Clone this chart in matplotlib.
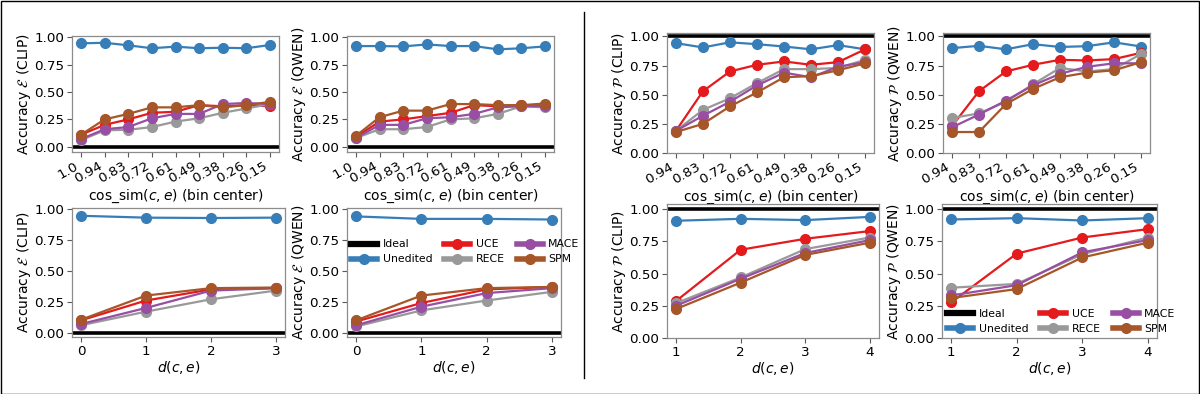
import numpy as np
import matplotlib
matplotlib.use('Agg')
import matplotlib.pyplot as plt
from matplotlib.lines import Line2D
from matplotlib.patches import Rectangle

# bins / x values
cos_bins_e = ['1.0', '0.94', '0.83', '0.72', '0.61', '0.49', '0.38', '0.26', '0.15']
cos_bins_p = ['0.94', '0.83', '0.72', '0.61', '0.49', '0.38', '0.26', '0.15']
d_e = [0, 1, 2, 3]
d_p = [1, 2, 3, 4]

methods = ['Unedited', 'UCE', 'RECE', 'MACE', 'SPM']
colors = {'Unedited': '#377eb8', 'UCE': '#e41a1c', 'RECE': '#999999',
          'MACE': '#984ea3', 'SPM': '#a65628'}

# accuracy E, cos_sim bins
e_cos_clip = {
    'Unedited': [0.945, 0.95, 0.927, 0.90, 0.915, 0.90, 0.905, 0.90, 0.93],
    'UCE':      [0.11, 0.20, 0.25, 0.31, 0.32, 0.38, 0.37, 0.38, 0.37],
    'RECE':     [0.06, 0.15, 0.155, 0.18, 0.23, 0.26, 0.31, 0.35, 0.39],
    'MACE':     [0.07, 0.16, 0.18, 0.26, 0.30, 0.30, 0.39, 0.40, 0.39],
    'SPM':      [0.11, 0.25, 0.30, 0.36, 0.36, 0.38, 0.36, 0.38, 0.41],
}
e_cos_qwen = {
    'Unedited': [0.92, 0.92, 0.917, 0.935, 0.92, 0.92, 0.89, 0.90, 0.917],
    'UCE':      [0.09, 0.23, 0.25, 0.28, 0.31, 0.38, 0.37, 0.38, 0.38],
    'RECE':     [0.08, 0.16, 0.16, 0.18, 0.25, 0.26, 0.30, 0.37, 0.36],
    'MACE':     [0.08, 0.20, 0.20, 0.26, 0.27, 0.30, 0.36, 0.37, 0.37],
    'SPM':      [0.10, 0.27, 0.33, 0.33, 0.39, 0.39, 0.38, 0.38, 0.395],
}
# accuracy E, graph distance
e_d_clip = {
    'Unedited': [0.945, 0.93, 0.927, 0.93],
    'UCE':      [0.10, 0.26, 0.35, 0.36],
    'RECE':     [0.06, 0.17, 0.27, 0.34],
    'MACE':     [0.07, 0.20, 0.34, 0.36],
    'SPM':      [0.105, 0.30, 0.36, 0.365],
}
e_d_qwen = {
    'Unedited': [0.94, 0.92, 0.92, 0.915],
    'UCE':      [0.09, 0.24, 0.35, 0.37],
    'RECE':     [0.05, 0.18, 0.26, 0.33],
    'MACE':     [0.06, 0.21, 0.32, 0.36],
    'SPM':      [0.10, 0.30, 0.36, 0.37],
}
# accuracy P, cos_sim bins
p_cos_clip = {
    'Unedited': [0.943, 0.906, 0.95, 0.934, 0.914, 0.89, 0.926, 0.89],
    'UCE':      [0.19, 0.53, 0.70, 0.757, 0.786, 0.757, 0.78, 0.89],
    'RECE':     [0.19, 0.37, 0.47, 0.60, 0.72, 0.72, 0.73, 0.80],
    'MACE':     [0.19, 0.32, 0.44, 0.58, 0.69, 0.65, 0.74, 0.78],
    'SPM':      [0.18, 0.25, 0.40, 0.52, 0.65, 0.66, 0.71, 0.77],
}
p_cos_qwen = {
    'Unedited': [0.90, 0.92, 0.89, 0.934, 0.91, 0.917, 0.95, 0.914],
    'UCE':      [0.23, 0.53, 0.70, 0.757, 0.80, 0.794, 0.806, 0.86],
    'RECE':     [0.30, 0.34, 0.44, 0.59, 0.73, 0.70, 0.72, 0.85],
    'MACE':     [0.22, 0.33, 0.45, 0.58, 0.68, 0.74, 0.77, 0.77],
    'SPM':      [0.18, 0.18, 0.42, 0.55, 0.65, 0.69, 0.71, 0.78],
}
# accuracy P, graph distance
p_d_clip = {
    'Unedited': [0.91, 0.925, 0.915, 0.94],
    'UCE':      [0.287, 0.685, 0.77, 0.83],
    'RECE':     [0.27, 0.47, 0.69, 0.78],
    'MACE':     [0.25, 0.46, 0.66, 0.76],
    'SPM':      [0.225, 0.43, 0.645, 0.74],
}
p_d_qwen = {
    'Unedited': [0.92, 0.93, 0.912, 0.93],
    'UCE':      [0.276, 0.655, 0.78, 0.845],
    'RECE':     [0.39, 0.42, 0.65, 0.78],
    'MACE':     [0.33, 0.41, 0.665, 0.76],
    'SPM':      [0.31, 0.38, 0.625, 0.74],
}

W, H = 1200, 394
fig = plt.figure(figsize=(W / 100, H / 100), dpi=100)


def px_axes(l, r, t, b):
    return fig.add_axes([l / W, (H - b) / H, (r - l) / W, (b - t) / H])


def draw(ax, xs, data, ideal, xlim, ylim, xticklabels, xlabel, ylabel, rot):
    ax.axhline(ideal, color='black', lw=2.6, zorder=1)
    for m in methods:
        ax.plot(xs, data[m], marker='o', ms=7, lw=1.6, color=colors[m], zorder=2)
    ax.set_xlim(xlim)
    ax.set_ylim(ylim)
    ax.set_xticks(xs)
    if rot:
        ax.set_xticklabels(xticklabels, rotation=30, ha='right')
    else:
        ax.set_xticklabels(xticklabels)
    ax.set_yticks([0, 0.25, 0.5, 0.75, 1.0])
    ax.set_yticklabels(['0.00', '0.25', '0.50', '0.75', '1.00'])
    ax.tick_params(labelsize=9.7, color='0.35', length=3.5, width=0.8, pad=2)
    for s in ax.spines.values():
        s.set_color('0.55')
        s.set_linewidth(0.9)
    ax.set_xlabel(xlabel, fontsize=10, labelpad=1)
    ax.set_ylabel(ylabel, fontsize=10, labelpad=1)


xe = list(range(len(cos_bins_e)))
xp = list(range(len(cos_bins_p)))
cos_label = r'cos_sim($c, e$) (bin center)'
d_label = r'$d(c, e)$'

ax1 = px_axes(72, 279, 36, 152)
draw(ax1, xe, e_cos_clip, 0.0, (-0.38, 8.38), (-0.048, 1.012), cos_bins_e,
     cos_label, r'Accuracy $\mathcal{E}$ (CLIP)', True)
ax2 = px_axes(347, 554, 36, 152)
draw(ax2, xe, e_cos_qwen, 0.0, (-0.38, 8.38), (-0.048, 1.012), cos_bins_e,
     cos_label, r'Accuracy $\mathcal{E}$ (QWEN)', True)
ax3 = px_axes(72, 285, 208, 337)
draw(ax3, d_e, e_d_clip, 0.0, (-0.14, 3.14), (-0.035, 1.008), [str(v) for v in d_e],
     d_label, r'Accuracy $\mathcal{E}$ (CLIP)', False)
ax4 = px_axes(347, 561, 208, 337)
draw(ax4, d_e, e_d_qwen, 0.0, (-0.14, 3.14), (-0.035, 1.008), [str(v) for v in d_e],
     d_label, r'Accuracy $\mathcal{E}$ (QWEN)', False)

ax5 = px_axes(667, 874, 33, 153)
draw(ax5, xp, p_cos_clip, 1.0, (-0.33, 7.33), (0, 1.03), cos_bins_p,
     cos_label, r'Accuracy $\mathcal{P}$ (CLIP)', True)
ax6 = px_axes(943, 1150, 33, 153)
draw(ax6, xp, p_cos_qwen, 1.0, (-0.33, 7.33), (0, 1.03), cos_bins_p,
     cos_label, r'Accuracy $\mathcal{P}$ (QWEN)', True)
ax7 = px_axes(667, 879, 204, 338)
draw(ax7, d_p, p_d_clip, 1.0, (0.86, 4.14), (0, 1.04), [str(v) for v in d_p],
     d_label, r'Accuracy $\mathcal{P}$ (CLIP)', False)
ax8 = px_axes(942, 1157, 204, 338)
draw(ax8, d_p, p_d_qwen, 1.0, (0.86, 4.14), (0, 1.04), [str(v) for v in d_p],
     d_label, r'Accuracy $\mathcal{P}$ (QWEN)', False)

# legend handles
handles = [Line2D([], [], color='black', lw=4.5)]
for m in methods:
    handles.append(Line2D([], [], color=colors[m], lw=4, marker='o', ms=7))
labels = ['Ideal'] + methods
for ax, anchor in [(ax4, (0.0, 0.66)), (ax8, (0.005, 0.125))]:
    ax.legend(handles, labels, ncol=3, loc='center left', bbox_to_anchor=anchor,
              frameon=False, fontsize=7.8, handlelength=2.4, handletextpad=0.5,
              columnspacing=1.1, labelspacing=0.45, borderaxespad=0)

# divider and border
fig.add_artist(Line2D([584 / W, 584 / W], [(H - 12) / H, (H - 378) / H],
                      color='black', lw=1.0))
fig.add_artist(Rectangle((0.5 / W, 0.5 / H), (W - 1.5) / W, (H - 1.5) / H,
                         transform=fig.transFigure, fill=False,
                         edgecolor='black', lw=1.0))

fig.savefig('out.png', dpi=100)
